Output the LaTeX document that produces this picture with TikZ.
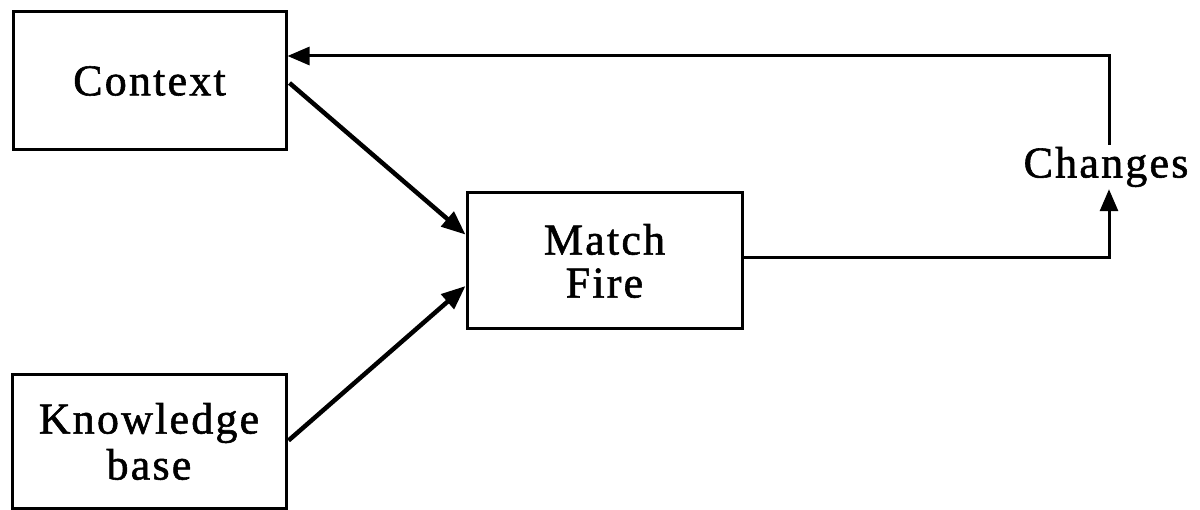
\documentclass[tikz,border=0pt]{standalone}
\usepackage{fontspec}
\setmainfont{Liberation Serif}[LetterSpace=5,FakeBold=1.3]
\usetikzlibrary{arrows.meta,calc}
\begin{document}
\begin{tikzpicture}[x=1pt,y=-1pt,
  lab/.style={font=\fontsize{44}{46}\selectfont, align=center},
  box/.style={lab, draw, line width=3pt, inner sep=0pt},
  thin arr/.style={line width=3pt, -{Triangle[length=22pt,width=18pt]}},
  thick arr/.style={line width=4.5pt, -{Triangle[length=24pt,width=19pt]}}]
\useasboundingbox (0,0) rectangle (1200,510);
\node[box, minimum width=273pt, minimum height=138pt] (ctx) at (149.5,81) {Context};
\node[box, minimum width=274pt, minimum height=133pt] (kb) at (149,441.5) {Knowledge\\[0pt]base};
\node[box, minimum width=275pt, minimum height=136pt] (mf) at (604.5,261) {Match\\[-3pt]Fire};
\node[lab, inner sep=2pt] (ch) at (1106,167) {Changes};
\coordinate (fbTop) at (1109,56);
\coordinate (fbBot) at (1109,258);
\draw[thin arr] (ch.north -| fbTop) -- (fbTop) -- (ctx.east |- fbTop);
\draw[thin arr] (mf.east |- fbBot) -- (fbBot) -- (ch.south -| fbBot);
\draw[thick arr] ($(ctx.east)+(2,2)$) -- ($(mf.north west)!0.31!(mf.south west)$);
\draw[thick arr] ($(kb.east)+(1,-1)$) -- ($(mf.north west)!0.68!(mf.south west)$);
\end{tikzpicture}
\end{document}
